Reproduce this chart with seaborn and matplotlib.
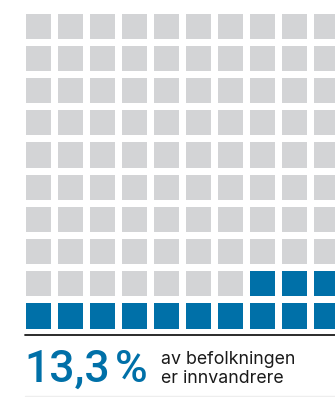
import numpy as np
import matplotlib
matplotlib.use("Agg")
import matplotlib.pyplot as plt
from matplotlib.colors import ListedColormap
from matplotlib.lines import Line2D
import seaborn as sns

# Share of the population who are immigrants, shown as a 10 x 10 waffle
share_pct = 13.3
share_label = "13,3 %"
caption_lines = ["av befolkningen", "er innvandrere"]
n_rows = 10
n_cols = 10

GRAY = "#D3D4D6"
BLUE = "#0070A8"
INK = "#1A1A1A"

sns.set_theme(style="white")
plt.rcParams["font.family"] = ["Inter", "DejaVu Sans"]

# Fill cells from the bottom row upwards, snaking left-right then right-left
filled = int(round(share_pct))
grid = np.zeros((n_rows, n_cols), dtype=int)
for i in range(filled):
    r = n_rows - 1 - i // n_cols
    k = i % n_cols
    c = k if (i // n_cols) % 2 == 0 else n_cols - 1 - k
    grid[r, c] = 1

W, H, DPI = 335, 397, 100
fig = plt.figure(figsize=(W / DPI, H / DPI), dpi=DPI)
fig.patch.set_facecolor("white")

cell_w = 32.0
cell_h = 32.2
left_px, top_px = 21.5, 9.5
ax = fig.add_axes([left_px / W,
                   1 - (top_px + n_rows * cell_h) / H,
                   n_cols * cell_w / W,
                   n_rows * cell_h / H])
sns.heatmap(grid, ax=ax, cmap=ListedColormap([GRAY, BLUE]), vmin=0, vmax=1,
            cbar=False, linewidths=7 * 72 / DPI, linecolor="white",
            xticklabels=False, yticklabels=False, square=False)
ax.set_axis_off()

# Rule under the waffle and faint rule at the bottom
fig.add_artist(Line2D([25 / W, 1], [1 - 335.3 / H] * 2, transform=fig.transFigure,
                      color=INK, lw=1.3))
fig.add_artist(Line2D([25 / W, 1], [1 - 395.5 / H] * 2, transform=fig.transFigure,
                      color="#EEEEEE", lw=1.0))

# Big figure: number and percent sign set apart
number, pct = share_label.split(" ")
big = dict(color=BLUE, fontsize=32, fontweight="medium", family=["Roboto", "DejaVu Sans"],
           ha="left", va="baseline")
fig.text(24 / W, 1 - 381.5 / H, number, **big)
fig.text(115 / W, 1 - 381.5 / H, pct, **big)

fig.text(161 / W, 1 - 364 / H, caption_lines[0], color=INK, fontsize=12.8,
         ha="left", va="baseline")
fig.text(161 / W, 1 - 383 / H, caption_lines[1], color=INK, fontsize=12.8,
         ha="left", va="baseline")

fig.savefig("out.png", dpi=DPI, facecolor="white")
